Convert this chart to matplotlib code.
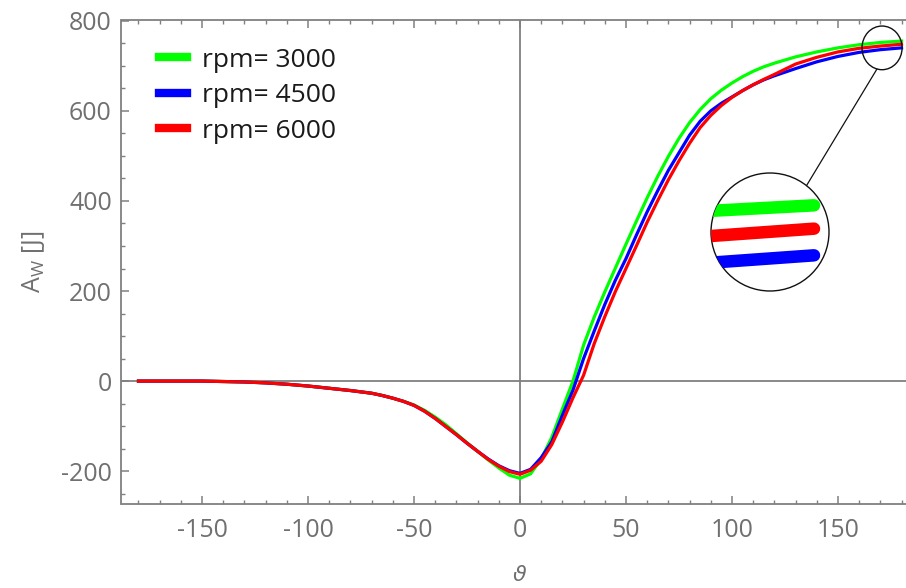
import matplotlib
matplotlib.use("Agg")
import matplotlib.pyplot as plt
from matplotlib.patches import Ellipse, Circle, ConnectionPatch
from matplotlib.ticker import MultipleLocator

plt.rcParams["font.family"] = ["Open Sans", "DejaVu Sans"]
plt.rcParams["mathtext.default"] = "regular"
plt.rcParams["axes.unicode_minus"] = False

# crank angle (deg)
THETA = [-180, -170, -160, -150, -140, -130, -120, -110, -100, -90, -80, -70,
         -65, -60, -55, -50, -45, -40, -35, -30, -25, -20, -15, -10, -5,
         0,
         5, 10, 15, 20, 25, 30, 35, 40, 45, 50, 55, 60, 65, 70, 75, 80, 85, 90,
         95, 100, 105, 110, 115, 120,
         130, 140, 150, 160, 170, 180]

# work A_W [J]
A_3000 = [0, 0, 0, 0, -1, -2, -4, -7, -11, -16, -21, -27,
          -32, -38, -45, -53, -65, -80, -97, -117, -137, -156, -175, -193, -209,
          -216,
          -206, -173, -125, -62, 0, 80, 142, 198, 251, 304, 356, 407, 455, 499, 539, 574, 603, 627,
          646, 662, 676, 688, 698, 706,
          720, 731, 740, 747, 752, 755]
A_4500 = [0, 0, 0, 0, -1, -2, -4, -7, -11, -16, -21, -27,
          -32, -38, -45, -54, -67, -83, -101, -119, -138, -156, -173, -188, -199,
          -205,
          -196, -170, -135, -76, -20, 50, 111, 170, 224, 272, 325, 376, 423, 468, 507, 546, 577, 600,
          617, 631, 645, 658, 669, 678,
          694, 709, 721, 730, 736, 740]
A_6000 = [0, 0, 0, 0, -1, -2, -4, -7, -11, -16, -21, -27,
          -32, -38, -45, -54, -67, -83, -101, -119, -138, -156, -174, -189, -201,
          -207,
          -198, -178, -141, -91, -37, 13, 83, 143, 199, 250, 301, 353, 401, 447, 489, 528, 563, 590,
          612, 630, 645, 658, 670, 681,
          704, 719, 731, 739, 744, 748]

SERIES = [("rpm= 3000", A_3000, "#00FF00"),
          ("rpm= 4500", A_4500, "#0000FF"),
          ("rpm= 6000", A_6000, "#FF0000")]

GRAY = "#808080"
TXT = "#707070"

fig = plt.figure(figsize=(9.06, 5.88), dpi=100)
# axes spans past the right edge (the original is cropped there)
ax = fig.add_axes([121.5 / 906, 84 / 588, 797 / 906, 484.5 / 588])
ax.set_xlim(-188, 188)
ax.set_ylim(-273, 803)

ax.axhline(0, color=GRAY, lw=1.3, zorder=1)
ax.axvline(0, color=GRAY, lw=1.3, zorder=1)

for label, vals, col in SERIES:
    ax.plot(THETA, vals, color=col, lw=2.3, label=label, zorder=3)

for side in ["left", "bottom", "top"]:
    ax.spines[side].set_color(GRAY)
    ax.spines[side].set_linewidth(1.3)
ax.spines["right"].set_visible(False)

ax.xaxis.set_major_locator(MultipleLocator(50))
ax.xaxis.set_minor_locator(MultipleLocator(10))
ax.yaxis.set_major_locator(MultipleLocator(200))
ax.yaxis.set_minor_locator(MultipleLocator(50))
ax.tick_params(which="both", direction="in", colors=GRAY, top=True, labelcolor=TXT,
               labelsize=18)
ax.tick_params(which="major", length=6, width=1.1)
ax.tick_params(which="minor", length=3, width=1)
ax.tick_params(axis="x", pad=10)
ax.tick_params(axis="y", pad=7)

ax.set_ylabel("A$_W$ [J]", color=TXT, fontsize=18, labelpad=10)
ax.set_xlabel("ϑ", color=TXT, fontsize=16, fontstyle="italic",
              family=["DejaVu Sans"], labelpad=16)

leg = ax.legend(loc="upper left", bbox_to_anchor=(0.0475, 0.942), frameon=False,
                fontsize=19, handlelength=1.05, handletextpad=0.55,
                labelspacing=0.4, borderpad=0, borderaxespad=0)
for t in leg.get_texts():
    t.set_color("#1a1a1a")
for ln in leg.get_lines():
    ln.set_linewidth(6)

# small circle marking the zoomed region
ax.add_patch(Ellipse((170.8, 740), 18.9, 97, fill=False, ec="#111111", lw=1, zorder=5))

# magnified view
axins = fig.add_axes([711 / 906, 1 - 291 / 588, 118 / 906, 118 / 588])
axins.set_xlim(174.5, 180.8)
axins.set_ylim(729.3, 764.7)
axins.axis("off")
clip = Circle((0.5, 0.5), 0.5, transform=axins.transAxes)
for label, vals, col in SERIES:
    ln, = axins.plot(THETA, vals, color=col, lw=9, solid_capstyle="round")
    ln.set_clip_path(clip)
axins.add_patch(Circle((0.5, 0.5), 0.5, transform=axins.transAxes, fill=False,
                       ec="#111111", lw=1, clip_on=False))

con = ConnectionPatch(xyA=(168.4, 693), coordsA=ax.transData,
                      xyB=(0.81, 0.894), coordsB=axins.transAxes,
                      color="#111111", lw=0.9)
fig.add_artist(con)

fig.savefig("out.png", dpi=100)
